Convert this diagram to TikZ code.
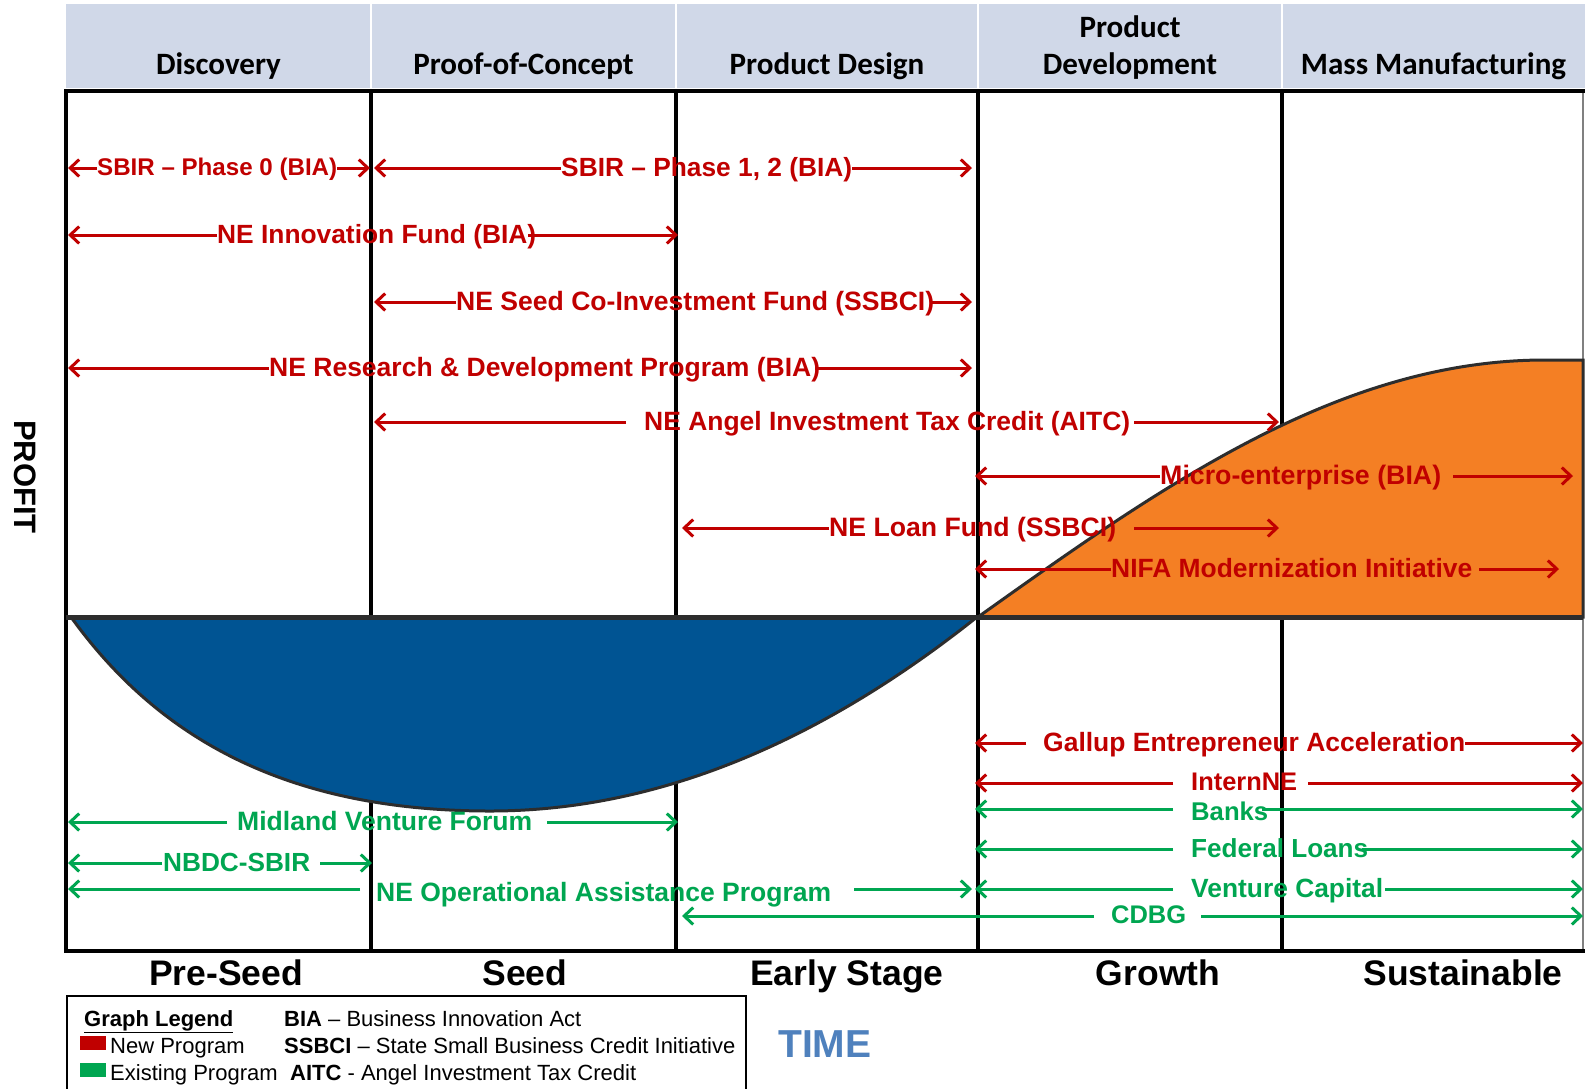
\documentclass[tikz,border=0pt]{standalone}
\usepackage{fontspec}
\setmainfont{Liberation Sans}
\newfontfamily\hdrfont{Carlito}
\usetikzlibrary{arrows.meta,calc}
\definecolor{hdrbg}{RGB}{208,216,232}
\definecolor{pred}{RGB}{192,0,0}
\definecolor{pgreen}{RGB}{0,166,81}
\definecolor{curveblue}{RGB}{0,84,147}
\definecolor{curveorange}{RGB}{244,127,36}
\definecolor{axisgray}{RGB}{45,45,45}
\definecolor{timeblue}{RGB}{79,129,189}
\newlength\natw
\newsavebox\measbox
\newcommand\measure[1]{\pgfinterruptpicture\sbox\measbox{\normalfont\bfseries\fontsize{10}{12}\selectfont #1}\global\natw=\wd\measbox\endpgfinterruptpicture}
\begin{document}
\sbox\measbox{\hdrfont\bfseries\fontsize{10}{12}\selectfont Discovery}%
\natw=\wd\measbox
\pgfmathsetmacro\hfs{1250/\natw}%
\begin{tikzpicture}[x=1pt,y=-1pt,
  arr/.style={line width=3pt,-{Straight Barb[length=9pt,width=17pt]}},
  frameline/.style={line width=4pt,black},
  hdr/.style={anchor=base,inner sep=0pt,font=\hdrfont\bfseries\fontsize{\hfs}{\hfs}\selectfont},
  stage/.style={anchor=base,inner sep=0pt,font=\bfseries\fontsize{35.5}{35.5}\selectfont},
  leg/.style={anchor=base west,inner sep=0pt,font=\fontsize{22}{22}\selectfont}]
\useasboundingbox (0,0) rectangle (1585,1088);
\fill[white] (0,0) rectangle (1585,1088);
% header cells
\foreach \a/\b in {66/370,372/675,677/977,979/1281,1283/1585}
  \fill[hdrbg] (\a,4) rectangle (\b,88);
\node[hdr] (h1) at (218.5,74) {Discovery};
\node[hdr] (h2) at (523.5,74) {Proof-of-Concept};
\node[hdr] (h3) at (827,74) {Product Design};
\node[hdr] (h4a) at (1130,37.5) {Product};
\node[hdr] (h4b) at (1130,74) {Development};
\node[hdr] (h5) at (1433.5,74) {Mass Manufacturing};
% frame
\foreach \x in {66,371,676,978,1282}
  \draw[frameline] (\x,91) -- (\x,951);
\draw[line width=1.5pt,gray] (1583,91) -- (1583,951);
\draw[frameline] (64,91) -- (1585,91);
\draw[frameline] (64,951) -- (1585,951);
% curves
\filldraw[fill=curveblue,draw=axisgray,line width=3pt]
  (71,617) .. controls (154.8,733.4) and (280.5,811) .. (490,811)
  .. controls (652.3,811) and (814.7,746.3) .. (977,617) -- cycle;
\filldraw[fill=curveorange,draw=axisgray,line width=3pt] (978,617) sin (1545,360) -- (1583,360) -- (1583,617) -- cycle;
\draw[line width=5pt,axisgray] (66,617) -- (1583,617);
% programs
\foreach \nm/\col/\ly/\ty/\ltip/\lend/\ta/\tb/\rbeg/\rtip/\txt in {
 sbirA/pred/168/168/68/97/97/337/337/370/{SBIR – Phase 0 (BIA)},
 sbirB/pred/168/168/374/561/561/852/852/972/{SBIR – Phase 1, 2 (BIA)},
 innov/pred/235/235/68/217/217/536/528/678/{NE Innovation Fund (BIA)},
 seed/pred/302/302/374/456/456/934/930/972/{NE Seed Co-Investment Fund (SSBCI)},
 rnd/pred/368/368/68/269/269/820/815/972/{NE Research \& Development Program (BIA)},
 angel/pred/422/422/374/626/644/1130/1134/1279/{NE Angel Investment Tax Credit (AITC)},
 micro/pred/476/476/975/1160/1160/1441/1453/1573/{Micro-enterprise (BIA)},
 loan/pred/528/528/682/829/829/1116/1134/1279/{NE Loan Fund (SSBCI)},
 nifa/pred/569/569/975/1111/1111/1472/1479/1559/{NIFA Modernization Initiative},
 gallup/pred/743/743/975/1026/1043/1465/1465/1583/{Gallup Entrepreneur Acceleration},
 intern/pred/783/783/975/1173/1191/1297/1308/1583/{InternNE},
 banks/pgreen/809/813/975/1173/1191/1268/1262/1583/{Banks},
 fed/pgreen/849/849/975/1173/1191/1368/1362/1583/{Federal Loans},
 vc/pgreen/889/889/975/1173/1191/1383/1385/1583/{Venture Capital},
 cdbg/pgreen/916/916/682/1094/1111/1186/1201/1583/{CDBG},
 midland/pgreen/822/822/68/227/237/532/547/678/{Midland Venture Forum},
 nbdc/pgreen/863/863/68/162/163/310/320/372/{NBDC-SBIR},
 neop/pgreen/889/893/68/360/376/831/854/972/{NE Operational Assistance Program}}{
  \measure{\txt}
  \pgfmathsetmacro\fs{10*(\tb-\ta)/\natw}
  \pgfmathsetmacro\by{\ty+0.31*\fs}
  \pgfmathsetmacro\gl{\ta-\lend}
  \pgfmathsetmacro\gr{\rbeg-\tb}
  \coordinate (\nm-l) at (\ltip,\ly);
  \coordinate (\nm-r) at (\rtip,\ly);
  \node[anchor=base west,inner sep=0pt,text=\col,font=\bfseries\fontsize{\fs}{\fs}\selectfont] (\nm) at (\ta,\by) {\txt};
  \draw[arr,\col] ($(\nm.west |- \nm-l)+(-\gl,0)$) -- (\nm-l);
  \draw[arr,\col] ($(\nm.east |- \nm-r)+(\gr,0)$) -- (\nm-r);
}
% axis labels
\node[rotate=-90,inner sep=0pt,font=\bfseries\fontsize{31}{31}\selectfont] (profit) at (25,477) {PROFIT};
\node[stage] (s1) at (226,985) {Pre-Seed};
\node[stage] (s2) at (525,985) {Seed};
\node[stage] (s3) at (847,985) {Early Stage};
\node[stage] (s4) at (1158,985) {Growth};
\node[stage] (s5) at (1463,985) {Sustainable};
\node[anchor=base west,inner sep=0pt,text=timeblue,font=\bfseries\fontsize{39}{39}\selectfont] (time) at (778,1057) {TIME};
% legend
\draw[line width=2pt] (67,1092) -- (67,996) -- (746,996) -- (746,1092);
\node[leg,font=\bfseries\fontsize{22}{22}\selectfont] (lgt) at (84,1026) {\underline{Graph Legend}};
\node[leg] (bia) at (284,1026) {\textbf{BIA} – Business Innovation Act};
\fill[pred] (80,1036) rectangle (106,1050);
\node[leg] (newp) at (110,1053) {New Program};
\node[leg] (ssbci) at (284,1053) {\textbf{SSBCI} – State Small Business Credit Initiative};
\fill[pgreen] (80,1063) rectangle (106,1077);
\node[leg] (exist) at (110,1080) {Existing Program};
\node[leg] (aitc) at (290,1080) {\textbf{AITC} - Angel Investment Tax Credit};
\end{tikzpicture}
\end{document}
